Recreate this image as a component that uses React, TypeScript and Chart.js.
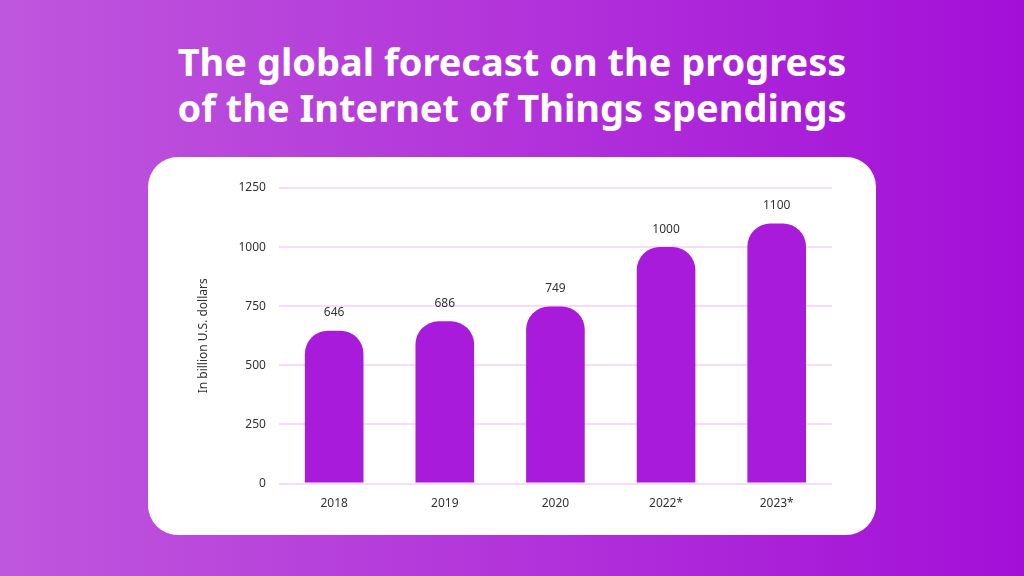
import React, { useEffect, useRef } from "react";
import { Chart, registerables } from "chart.js";

Chart.register(...registerables);

const categories = ["2018", "2019", "2020", "2022*", "2023*"];
const spending = [646, 686, 749, 1000, 1100];
const yTicks = [0, 250, 500, 750, 1000, 1250];
const titleLines = ["The global forecast on the progress", "of the Internet of Things spendings"];
const yAxisTitle = "In billion U.S. dollars";

const FONT = "'Noto Sans', 'Open Sans', sans-serif";

const valueLabels = {
  id: "valueLabels",
  afterDatasetsDraw(chart: any) {
    const ctx = chart.ctx;
    const meta = chart.getDatasetMeta(0);
    ctx.save();
    ctx.fillStyle = "#333333";
    ctx.font = `12px ${FONT}`;
    ctx.textAlign = "center";
    ctx.textBaseline = "middle";
    meta.data.forEach((bar: any, i: number) => {
      ctx.fillText(String(spending[i]), bar.x, bar.y - 18);
    });
    ctx.restore();
  },
};

export default function App() {
  const ref = useRef<HTMLCanvasElement>(null);
  useEffect(() => {
    document.body.style.margin = "0";
    const chart = new Chart(ref.current!, {
      type: "bar",
      data: {
        labels: categories,
        datasets: [
          {
            data: spending,
            backgroundColor: "#A91BDA",
            borderRadius: { topLeft: 23, topRight: 23, bottomLeft: 0, bottomRight: 0 },
            borderSkipped: false,
            barPercentage: 0.53,
            categoryPercentage: 1,
          },
        ],
      },
      options: {
        responsive: false,
        animation: false,
        maintainAspectRatio: false,
        layout: { padding: { left: 196, right: 192, top: 188, bottom: 60 } },
        plugins: { legend: { display: false }, tooltip: { enabled: false } },
        scales: {
          x: {
            grid: { display: false },
            border: { display: false },
            ticks: { color: "#333333", font: { family: FONT, size: 12 }, padding: 5 },
          },
          y: {
            min: 0,
            max: 1250,
            afterBuildTicks: (axis: any) => {
              axis.ticks = yTicks.map((v) => ({ value: v }));
            },
            grid: { color: "#F3DDF8", lineWidth: 2, drawTicks: false },
            border: { display: false },
            ticks: {
              color: "#333333",
              font: { family: FONT, size: 12 },
              padding: 13,
              callback: (v: any) => String(v),
            },
            title: {
              display: true,
              text: yAxisTitle,
              color: "#333333",
              font: { family: FONT, size: 12 },
              padding: { top: 0, bottom: 15 },
            },
          },
        },
      },
      plugins: [valueLabels],
    });
    return () => chart.destroy();
  }, []);

  return (
    <div
      style={{
        position: "fixed",
        left: 0,
        top: 0,
        width: 1024,
        height: 576,
        background: "linear-gradient(90deg, #BF57DD 0%, #B234DA 50%, #A30FD8 100%)",
        overflow: "hidden",
      }}
    >
      <div
        style={{
          position: "absolute",
          left: 0,
          top: 38,
          width: 1024,
          textAlign: "center",
          color: "#FFFFFF",
          fontFamily: FONT,
          fontWeight: 700,
          fontSize: 38,
          lineHeight: "46px",
        }}
      >
        {titleLines.map((t) => (
          <div key={t}>{t}</div>
        ))}
      </div>
      <div
        style={{
          position: "absolute",
          left: 148,
          top: 157,
          width: 728,
          height: 378,
          borderRadius: 30,
          background: "#FFFFFF",
        }}
      />
      <canvas ref={ref} width={1024} height={576} style={{ position: "absolute", left: 0, top: 0 }} />
    </div>
  );
}
